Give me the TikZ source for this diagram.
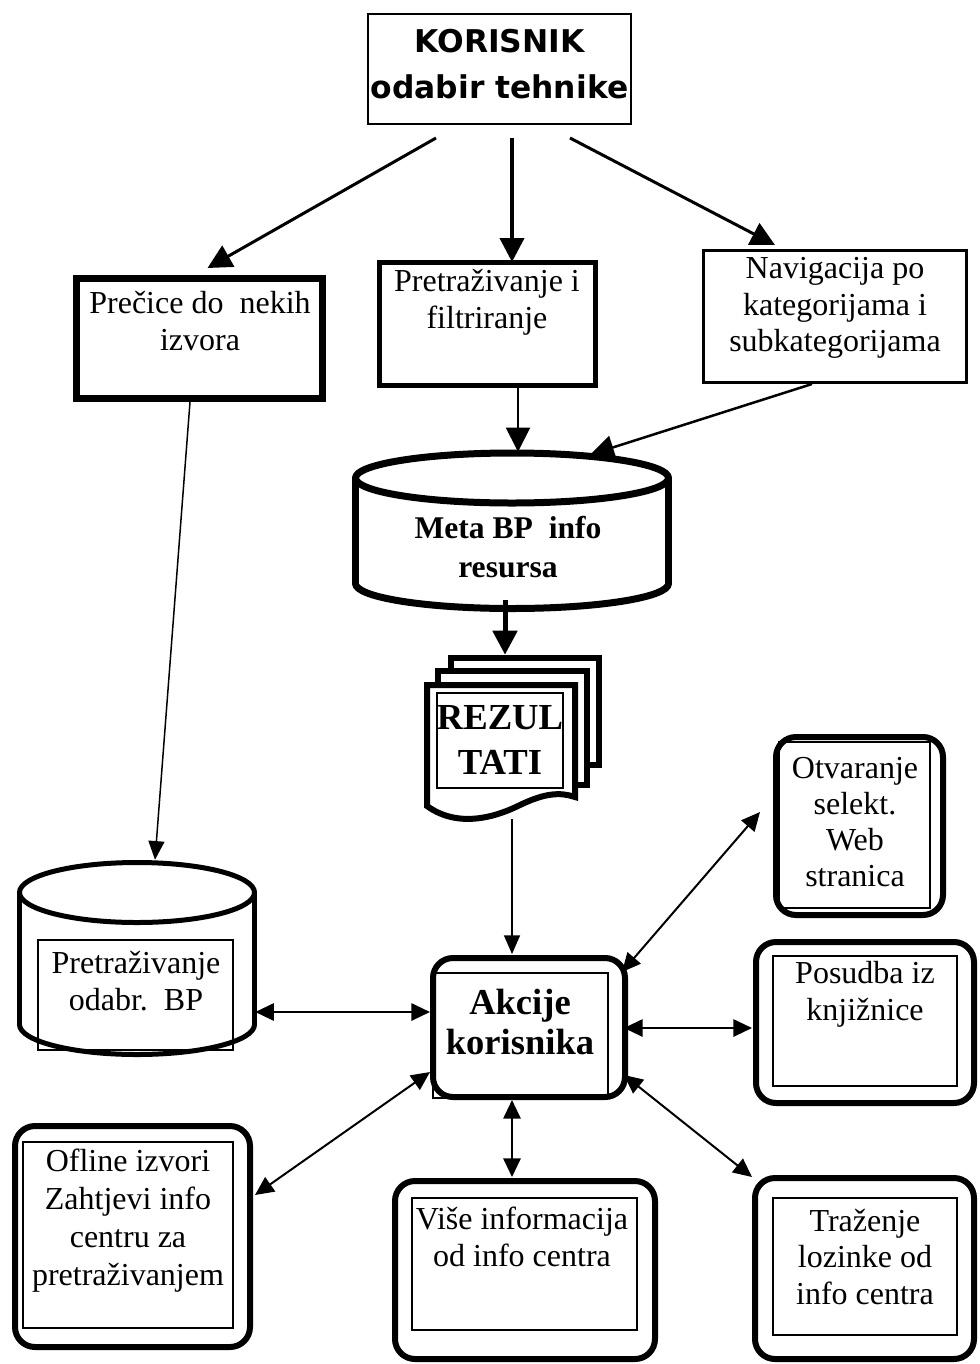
\documentclass[tikz,border=0pt]{standalone}
\usepackage{fontspec}
\setmainfont{Liberation Serif}
\newfontfamily\blackfont{DejaVu Sans}
\usetikzlibrary{arrows.meta,calc}
\tikzset{
  lw/.style={line width={#1*0.75pt}},
  sz/.style 2 args={minimum width={#1*0.75pt}, minimum height={#2*0.75pt}},
  frame/.style={draw, inner sep=0pt, fill=white},
  rbox/.style={frame, lw=6, rounded corners=15pt},
  txt/.style={align=center, inner sep=0pt, font=\fontsize{24}{27.5}\selectfont},
  btxt/.style 2 args={align=center, inner sep=0pt, font=\bfseries\fontsize{#1}{#2}\selectfont},
  arr/.style={-{Triangle[length=18pt,width=18pt]}},
  sarr/.style={-{Triangle[length=14pt,width=12pt]}},
  darr/.style={{Triangle[length=14pt,width=13pt]}-{Triangle[length=14pt,width=13pt]}, lw=2},
  inner/.style={lw=1.5},
  cylline/.style={lw=#1, line join=round},
}
\begin{document}
\begin{tikzpicture}[x=0.75pt,y=-0.75pt]
\fill[white] (0,0) rectangle (980,1364);
\useasboundingbox (0,0) rectangle (980,1364);

% ---- top box
\node[frame, lw=2, sz={263}{110}] (kor) at (499.5,69) {};
\node[align=center, inner sep=0pt, font=\blackfont\bfseries\fontsize{23.5}{35}\selectfont] (korT) at (499.5,64) {KORISNIK\\odabir tehnike};

% ---- three technique boxes
\node[frame, lw=7, sz={246}{120}] (prec) at (199.5,338.5) {};
\node[txt] (precT) at (200,321) {Prečice do\ \ nekih\\izvora};
\node[frame, lw=5, sz={216}{123}] (pret) at (487.5,324) {};
\node[txt] (pretT) at (487,302) {Pretraživanje i\\filtriranje};
\node[frame, lw=3, sz={263}{132}] (nav) at (835,316.5) {};
\node[txt] (navT) at (835,308) {Navigacija po\\kategorijama i\\subkategorijama};

% ---- Meta cylinder
\node[sz={320}{162}, inner sep=0pt] (meta) at (512,531) {};
\draw[cylline=7, fill=white] (512,583.5) ellipse [x radius=156.5, y radius=25];
\fill[white] (355.5,478) rectangle (668.5,583.5);
\draw[cylline=7] (355.5,478) -- (355.5,583.5) (668.5,478) -- (668.5,583.5);
\draw[cylline=7, fill=white] (512,478) ellipse [x radius=156.5, y radius=25];
\node[btxt={23.7}{29}] (metaT) at (508,547) {Meta BP\ \ info\\resursa};

% ---- REZULTATI multi-document
\node[sz={180}{167}, inner sep=0pt] (rez) at (514,738.5) {};
\draw[lw=6, fill=white] (451,658) rectangle (599,765);
\draw[lw=6, fill=white] (438,671) rectangle (587,785);
\draw[lw=6, fill=white, line join=miter] (427,806) -- (427,685) -- (575,685) -- (575,797)
   .. controls (560,792) and (545,793) .. (520,805)
   .. controls (500,815) and (460,830) .. (427,806) -- cycle;
\draw[inner] (437,693) rectangle (563,788);
\node[btxt={27.5}{34}] (rezT) at (500,740) {REZUL\\TATI};

% ---- second cylinder
\node[sz={240}{197}, inner sep=0pt] (cyl2) at (137,958.5) {};
\draw[cylline=5, fill=white] (137,1024.5) ellipse [x radius=117.5, y radius=30];
\fill[white] (19.5,892.5) rectangle (254.5,1024.5);
\draw[cylline=5] (19.5,892.5) -- (19.5,1024.5) (254.5,892.5) -- (254.5,1024.5);
\draw[cylline=5, fill=white] (137,892.5) ellipse [x radius=117.5, y radius=30];
\draw[inner] (38,940) rectangle (233,1050);
\node[txt] (cyl2T) at (136,981) {Pretraživanje\\odabr.\ \ BP};

% ---- Akcije korisnika
\node[rbox, sz={192}{139}] (akc) at (529,1027.5) {};
\draw[inner] (433,973) rectangle (608,1098);
\node[btxt={27.4}{30}] (akcT) at (520,1022) {Akcije\\korisnika};

% ---- action boxes
\node[rbox, sz={167}{178}] (otv) at (859.5,826) {};
\draw[inner] (779,742) rectangle (930,908);
\node[align=center, inner sep=0pt, font=\fontsize{24}{27}\selectfont] (otvT) at (855,822) {Otvaranje\\selekt.\\Web\\stranica};

\node[rbox, sz={218}{161}] (pos) at (865,1022.5) {};
\draw[inner] (773,956) rectangle (957,1086);
\node[txt] (posT) at (865,994) {Posudba iz\\knjižnice};

\node[rbox, sz={235}{221}] (ofl) at (132.5,1236.5) {};
\draw[inner] (23,1142) rectangle (233,1328);
\node[align=center, inner sep=0pt, font=\fontsize{24}{28.5}\selectfont] (oflT) at (128,1221) {Ofline izvori\\Zahtjevi info\\centru za\\pretraživanjem};

\node[rbox, sz={260}{178}] (vis) at (525,1270) {};
\draw[inner] (412,1198) rectangle (637,1330);
\node[txt] (visT) at (522,1237) {Više informacija\\od info centra};

\node[rbox, sz={219}{181}] (tra) at (864.5,1268.5) {};
\draw[inner] (773,1198) rectangle (957,1335);
\node[txt] (traT) at (865,1257) {Traženje\\lozinke od\\info centra};

% ---- connectors
\draw[lw=3, arr] ($(kor.south)+(-63.5,13)$) -- ($(prec.north)+(8,-7)$);
\draw[lw=4, arr] ($(kor.south)+(12.5,13)$) -- ($(pret.north)+(24.5,2)$);
\draw[lw=3, arr] ($(kor.south)+(70.5,13)$) -- ($(nav.north)+(-60,-4)$);
\draw[lw=2, arr] ($(pret.south)+(30.5,0)$) -- ($(meta.north)+(6,2)$);
\draw[lw=2.5, arr] ($(nav.south)+(-23,0)$) -- ($(meta.north)+(78,5)$);
\draw[lw=5, arr] ($(meta.south)+(-7,-12)$) -- ($(rez.north)+(-9,0)$);
\draw[lw=1.5, sarr] ($(rez.south)+(-2,-3)$) -- ($(akc.north)+(-17,-1)$);
\draw[lw=1.5, sarr] ($(prec.south)+(-9.5,0)$) -- ($(cyl2.north)+(18,0)$);

\draw[darr] ($(cyl2.east)+(-2,53.5)$) -- ($(akc.west)+(0,-15.5)$);
\draw[darr] ($(akc.north east)+(-6,17)$) -- ($(otv.west)+(-13,-14)$);
\draw[darr] ($(akc.east)+(-4,0.5)$) -- ($(pos.west)+(-1,5.5)$);
\draw[darr] ($(akc.south west)+(0,-28)$) -- ($(ofl.east)+(2,-41.5)$);
\draw[darr] ($(akc.south)+(-17,0)$) -- ($(vis.north)+(-13,-1)$);
\draw[darr] ($(akc.south east)+(-4,-25)$) -- ($(tra.north west)+(0,2)$);
\end{tikzpicture}
\end{document}
